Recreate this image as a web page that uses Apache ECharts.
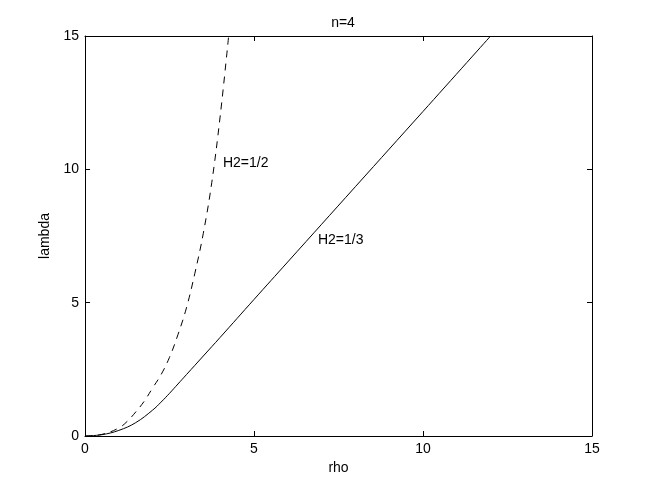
<!DOCTYPE html>
<html>
<head>
<meta charset="utf-8">
<script src="https://cdn.jsdelivr.net/npm/echarts@6/dist/echarts.min.js"></script>
<style>
  html, body { margin: 0; padding: 0; background: #fff; }
  #main { width: 654px; height: 492px; }
</style>
</head>
<body>
<div id="main"></div>
<script>
// values
const rhoSolid = [0, 0.5, 1, 1.5, 2, 2.25, 2.5, 2.75, 3, 3.5, 4, 5, 6, 8, 10, 12];
const lambdaSolid = [0, 0.05, 0.21, 0.5, 0.97, 1.27, 1.6, 1.95, 2.3, 3.0, 3.7, 5.12, 6.53, 9.35, 12.17, 15.0];
const rhoDashed = [0, 0.5, 1, 1.25, 1.5, 1.75, 2, 2.25, 2.5, 2.75, 3, 3.25, 3.5, 3.75, 4, 4.25];
const lambdaDashed = [0, 0.06, 0.3, 0.55, 0.9, 1.3, 1.8, 2.3, 2.95, 3.8, 4.8, 6.1, 7.6, 9.5, 12.0, 15.0];

const font = 'Liberation Sans, Arial, sans-serif';
const zip = (xs, ys) => xs.map((x, i) => [x, ys[i]]);

const myMain = echarts.init(document.getElementById('main'));

const axisBase = {
  min: 0,
  max: 15,
  interval: 5,
  splitLine: { show: false },
  axisLine: { show: true, onZero: false, lineStyle: { color: '#000', width: 1 } },
  axisTick: { show: true, inside: true, length: 5, lineStyle: { color: '#000' } },
  axisLabel: { color: '#000', fontSize: 14, fontFamily: font }
};

const textLabel = (txt) => ({
  show: true,
  formatter: txt,
  position: [0, 0],
  align: 'left',
  verticalAlign: 'middle',
  color: '#000',
  fontSize: 14,
  fontFamily: font
});

myMain.setOption({
  animation: false,
  title: {
    text: 'n=4',
    left: 338,
    top: 11,
    textAlign: 'center',
    textStyle: { color: '#000', fontSize: 14, fontWeight: 'normal', fontFamily: font }
  },
  grid: { left: 85, right: 62, top: 36, bottom: 56 },
  xAxis: [
    Object.assign({}, axisBase, {
      type: 'value',
      position: 'bottom',
      name: 'rho',
      nameLocation: 'middle',
      nameGap: 25,
      nameTextStyle: { color: '#000', fontSize: 14, fontFamily: font },
      axisLabel: Object.assign({}, axisBase.axisLabel, { margin: 6 })
    }),
    Object.assign({}, axisBase, {
      type: 'value',
      position: 'top',
      axisLabel: { show: false }
    })
  ],
  yAxis: [
    Object.assign({}, axisBase, {
      type: 'value',
      position: 'left',
      name: 'lambda',
      nameLocation: 'middle',
      nameGap: 33,
      nameTextStyle: { color: '#000', fontSize: 14, fontFamily: font },
      axisLabel: Object.assign({}, axisBase.axisLabel, { margin: 6 })
    }),
    Object.assign({}, axisBase, {
      type: 'value',
      position: 'right',
      axisLabel: { show: false }
    })
  ],
  series: [
    {
      name: 'H2=1/3',
      type: 'line',
      data: zip(rhoSolid, lambdaSolid),
      smooth: 0.4,
      showSymbol: false,
      clip: true,
      lineStyle: { color: '#000', width: 1 },
      markPoint: {
        symbol: 'circle',
        symbolSize: 0,
        data: [{ coord: [6.89, 7.35] }],
        label: textLabel('H2=1/3')
      }
    },
    {
      name: 'H2=1/2',
      type: 'line',
      data: zip(rhoDashed, lambdaDashed),
      smooth: 0.4,
      showSymbol: false,
      clip: true,
      lineStyle: { color: '#000', width: 1, type: [7, 6] },
      markPoint: {
        symbol: 'circle',
        symbolSize: 0,
        data: [{ coord: [4.08, 10.24] }],
        label: textLabel('H2=1/2')
      }
    }
  ]
});
</script>
</body>
</html>
